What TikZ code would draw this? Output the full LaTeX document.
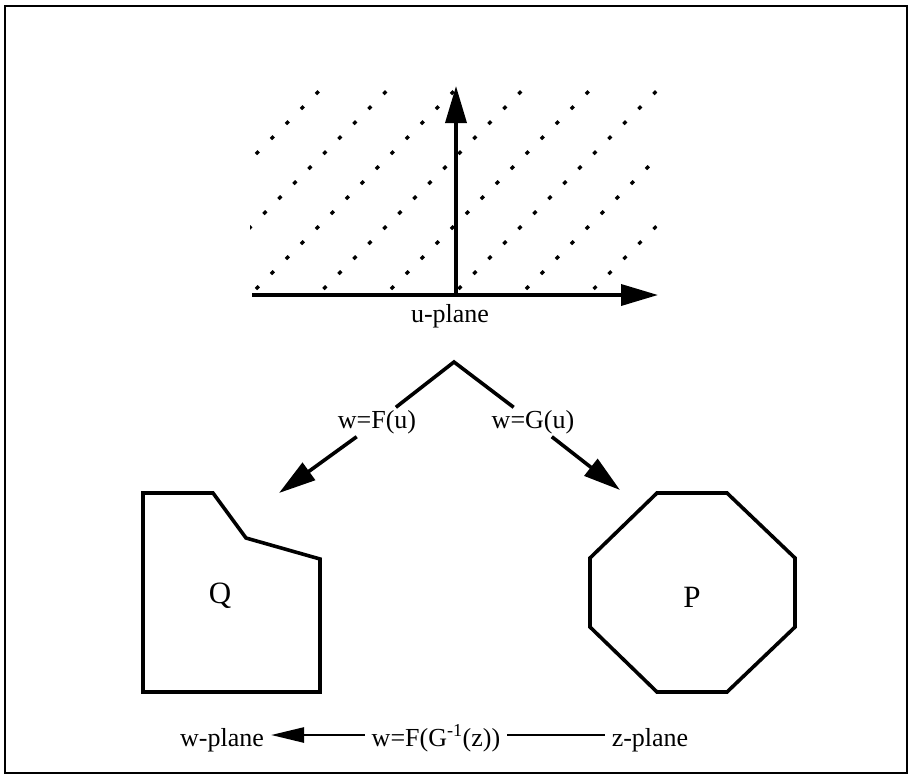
\documentclass[tikz,border=0pt]{standalone}
\usepackage{fontspec}
\setmainfont{Liberation Serif}
\usetikzlibrary{arrows.meta}

\tikzset{
  maptext/.style={font=\fontsize{26}{30}\selectfont, inner xsep=7pt, inner ysep=3pt,
    text height=18pt, text depth=5pt},
  rowtext/.style={maptext, text height=24pt, text depth=2pt, inner ysep=0pt},
  regiontext/.style={font=\fontsize{31}{36}\selectfont, anchor=base},
  outline/.style={line width=3.6pt},
  mapto/.style={line width=3.6pt, -{Triangle[length=37pt,width=21pt]}},
}

\begin{document}
\begin{tikzpicture}[x=1pt,y=-1pt]
  \useasboundingbox (0,0) rectangle (913,777);
  % outer frame
  \draw[line width=2.6pt] (5,6) rectangle (907,773);
  % u-plane: dotted diagonals (x+y = const), clipped to the plane
  \begin{scope}
    \clip (250,88) rectangle (657,291);
    \foreach \c in {410,477.5,...,883}
      \draw[line width=3.2pt, dash pattern=on 4pt off 17.2pt] ({\c-289},289) -- ++(230,-230);
  \end{scope}
  % axes
  \coordinate (xstart) at (252,295);
  \coordinate (xtip) at (658,295);
  \coordinate (origin) at (456,295);
  \coordinate (ytip) at (456,86);
  \draw[mapto] (xstart) -- (xtip);
  \draw[mapto] (origin) -- (ytip);
  \node[maptext] (uplane) at (450,316) {u-plane};
  % the two maps out of the u-plane
  \coordinate (apex) at (454,362);
  \node[maptext] (mapF) at (377,422) {w=F(u)};
  \node[maptext] (mapG) at (533,422) {w=G(u)};
  \coordinate (Ftip) at (279,493);
  \coordinate (Gtip) at (620,490);
  \draw[line width=3.6pt] (mapF) -- (apex) -- (mapG);
  \draw[mapto] (mapF) -- (Ftip);
  \draw[mapto] (mapG) -- (Gtip);
  % region Q (w-plane)
  \draw[outline] (143,493) -- (213,493) -- (246,538) -- (320,559) -- (320,692) -- (143,692) -- cycle;
  \node[regiontext] (Q) at (220,603) {Q};
  % region P (z-plane)
  \draw[outline] (657,493) -- (727,493) -- (795,558) -- (795,627) -- (727,692) -- (657,692)
    -- (590,627) -- (590,558) -- cycle;
  \node[regiontext] (P) at (692,607) {P};
  % bottom row
  \node[rowtext] (composite) at (436,735) {w=F(G\textsuperscript{-1}(z))};
  \node[rowtext] (wplane) at (222,735) {w-plane};
  \node[rowtext] (zplane) at (650,735) {z-plane};
  \draw[line width=2.6pt, -{Triangle[length=33pt,width=15pt]}] (composite) -- (wplane);
  \draw[line width=2.6pt] (zplane) -- (composite);
\end{tikzpicture}
\end{document}
